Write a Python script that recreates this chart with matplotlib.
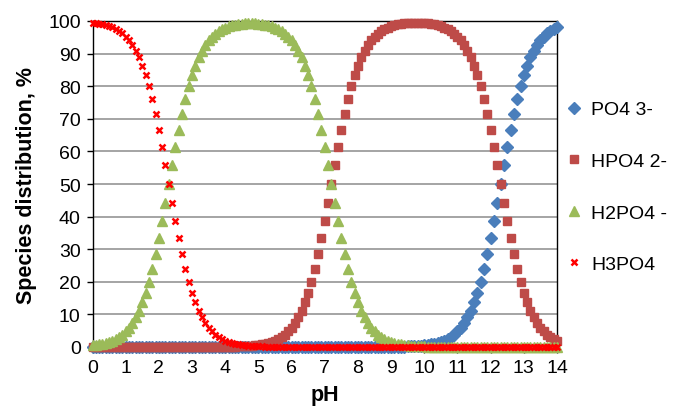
import matplotlib
matplotlib.use("Agg")
import matplotlib.pyplot as plt

plt.rcParams['font.family'] = ['Liberation Sans', 'DejaVu Sans']

ph = [
    0.0, 0.1, 0.2, 0.3, 0.4, 0.5, 0.6, 0.7, 0.8, 0.9,
    1.0, 1.1, 1.2, 1.3, 1.4, 1.5, 1.6, 1.7, 1.8, 1.9,
    2.0, 2.1, 2.2, 2.3, 2.4, 2.5, 2.6, 2.7, 2.8, 2.9,
    3.0, 3.1, 3.2, 3.3, 3.4, 3.5, 3.6, 3.7, 3.8, 3.9,
    4.0, 4.1, 4.2, 4.3, 4.4, 4.5, 4.6, 4.7, 4.8, 4.9,
    5.0, 5.1, 5.2, 5.3, 5.4, 5.5, 5.6, 5.7, 5.8, 5.9,
    6.0, 6.1, 6.2, 6.3, 6.4, 6.5, 6.6, 6.7, 6.8, 6.9,
    7.0, 7.1, 7.2, 7.3, 7.4, 7.5, 7.6, 7.7, 7.8, 7.9,
    8.0, 8.1, 8.2, 8.3, 8.4, 8.5, 8.6, 8.7, 8.8, 8.9,
    9.0, 9.1, 9.2, 9.3, 9.4, 9.5, 9.6, 9.7, 9.8, 9.9,
    10.0, 10.1, 10.2, 10.3, 10.4, 10.5, 10.6, 10.7, 10.8, 10.9,
    11.0, 11.1, 11.2, 11.3, 11.4, 11.5, 11.6, 11.7, 11.8, 11.9,
    12.0, 12.1, 12.2, 12.3, 12.4, 12.5, 12.6, 12.7, 12.8, 12.9,
    13.0, 13.1, 13.2, 13.3, 13.4, 13.5, 13.6, 13.7, 13.8, 13.9,
    14.0,
]

po4 = [
    0, 0, 0, 0, 0, 0, 0, 0, 0, 0,
    0, 0, 0, 0, 0, 0, 0, 0, 0, 0,
    0, 0, 0, 0, 0, 0, 0, 0, 0, 0,
    0, 0, 0, 0, 0, 0, 0, 0, 0, 0,
    0, 0, 0, 0, 0, 0, 0, 0, 0, 0,
    0, 0, 0, 0, 0, 0, 0, 0, 0, 0,
    0, 0, 0, 0, 0, 0, 0, 0, 0, 0,
    0, 0, 0, 0, 0, 0, 0, 0, 0, 0,
    0, 0.01, 0.01, 0.01, 0.01, 0.02, 0.02, 0.03, 0.03, 0.04,
    0.05, 0.06, 0.08, 0.10, 0.13, 0.16, 0.20, 0.25, 0.32, 0.40,
    0.50, 0.63, 0.79, 0.99, 1.24, 1.56, 1.96, 2.45, 3.07, 3.83,
    4.77, 5.94, 7.36, 9.09, 11.18, 13.68, 16.63, 20.08, 24.03, 28.47,
    33.39, 38.69, 44.27, 50.00, 55.73, 61.31, 66.61, 71.53, 75.97, 79.92,
    83.37, 86.32, 88.82, 90.91, 92.64, 94.06, 95.23, 96.17, 96.93, 97.55,
    98.04,
]

hpo4 = [
    0, 0, 0, 0, 0, 0, 0, 0, 0, 0,
    0, 0, 0, 0, 0, 0, 0, 0, 0, 0,
    0, 0, 0, 0, 0, 0, 0, 0, 0, 0,
    0.01, 0.01, 0.01, 0.01, 0.02, 0.02, 0.03, 0.03, 0.04, 0.05,
    0.06, 0.08, 0.10, 0.13, 0.16, 0.20, 0.25, 0.32, 0.40, 0.50,
    0.63, 0.79, 0.99, 1.24, 1.56, 1.96, 2.45, 3.07, 3.83, 4.77,
    5.94, 7.36, 9.09, 11.18, 13.68, 16.63, 20.08, 24.03, 28.47, 33.39,
    38.69, 44.27, 50.00, 55.73, 61.31, 66.61, 71.53, 75.97, 79.92, 83.37,
    86.32, 88.82, 90.91, 92.64, 94.06, 95.21, 96.15, 96.90, 97.52, 98.00,
    98.39, 98.70, 98.93, 99.11, 99.24, 99.34, 99.40, 99.43, 99.43, 99.40,
    99.34, 99.24, 99.11, 98.93, 98.70, 98.39, 98.00, 97.52, 96.91, 96.15,
    95.21, 94.05, 92.63, 90.90, 88.81, 86.31, 83.37, 79.92, 75.97, 71.53,
    66.61, 61.31, 55.73, 50.00, 44.27, 38.69, 33.39, 28.47, 24.03, 20.08,
    16.63, 13.68, 11.18, 9.09, 7.36, 5.94, 4.77, 3.83, 3.07, 2.45,
    1.96,
]

h2po4 = [
    0.50, 0.63, 0.79, 0.99, 1.24, 1.56, 1.96, 2.45, 3.07, 3.83,
    4.77, 5.94, 7.36, 9.09, 11.18, 13.68, 16.63, 20.08, 24.03, 28.47,
    33.39, 38.69, 44.27, 50.00, 55.73, 61.31, 66.61, 71.53, 75.97, 79.92,
    83.36, 86.31, 88.81, 90.90, 92.62, 94.04, 95.20, 96.14, 96.89, 97.50,
    97.98, 98.36, 98.66, 98.88, 99.05, 99.17, 99.25, 99.28, 99.28, 99.25,
    99.17, 99.05, 98.88, 98.66, 98.36, 97.98, 97.50, 96.89, 96.14, 95.20,
    94.04, 92.63, 90.90, 88.81, 86.32, 83.37, 79.92, 75.97, 71.53, 66.61,
    61.31, 55.73, 50.00, 44.27, 38.69, 33.39, 28.47, 24.03, 20.08, 16.63,
    13.68, 11.18, 9.09, 7.36, 5.94, 4.77, 3.83, 3.07, 2.45, 1.96,
    1.56, 1.24, 0.99, 0.79, 0.63, 0.50, 0.40, 0.32, 0.25, 0.20,
    0.16, 0.13, 0.10, 0.08, 0.06, 0.05, 0.04, 0.03, 0.02, 0.02,
    0.02, 0.01, 0.01, 0.01, 0.01, 0.01, 0, 0, 0, 0,
    0, 0, 0, 0, 0, 0, 0, 0, 0, 0,
    0, 0, 0, 0, 0, 0, 0, 0, 0, 0,
    0,
]

h3po4 = [
    99.50, 99.37, 99.21, 99.01, 98.76, 98.44, 98.04, 97.55, 96.93, 96.17,
    95.23, 94.06, 92.64, 90.91, 88.82, 86.32, 83.37, 79.92, 75.97, 71.53,
    66.61, 61.31, 55.73, 50.00, 44.27, 38.69, 33.39, 28.47, 24.03, 20.08,
    16.63, 13.68, 11.18, 9.09, 7.36, 5.94, 4.77, 3.83, 3.07, 2.45,
    1.96, 1.56, 1.24, 0.99, 0.79, 0.63, 0.50, 0.40, 0.32, 0.25,
    0.20, 0.16, 0.13, 0.10, 0.08, 0.06, 0.05, 0.04, 0.03, 0.03,
    0.02, 0.01, 0.01, 0.01, 0.01, 0.01, 0, 0, 0, 0,
    0, 0, 0, 0, 0, 0, 0, 0, 0, 0,
    0, 0, 0, 0, 0, 0, 0, 0, 0, 0,
    0, 0, 0, 0, 0, 0, 0, 0, 0, 0,
    0, 0, 0, 0, 0, 0, 0, 0, 0, 0,
    0, 0, 0, 0, 0, 0, 0, 0, 0, 0,
    0, 0, 0, 0, 0, 0, 0, 0, 0, 0,
    0, 0, 0, 0, 0, 0, 0, 0, 0, 0,
    0,
]

labels = ['PO4 3-', 'HPO4 2-', 'H2PO4 -', 'H3PO4']
x_ticks = list(range(0, 15))
y_ticks = list(range(0, 101, 10))

fig = plt.figure(figsize=(6.73, 4.14), dpi=100)
ax = fig.add_axes([92.5 / 673, 66 / 414, 464.5 / 673, 326 / 414])

ax.plot(ph, po4, ls='none', marker='D', ms=6.3, color='#4A7EBB', mec='#4A7EBB', label=labels[0], clip_on=False, zorder=3)
ax.plot(ph, hpo4, ls='none', marker='s', ms=5.6, color='#BE4B48', mec='#BE4B48', label=labels[1], clip_on=False, zorder=4)
ax.plot(ph, h2po4, ls='none', marker='^', ms=7.4, color='#9BBB59', mec='#9BBB59', label=labels[2], clip_on=False, zorder=5)
ax.plot(ph, h3po4, ls='none', marker='x', ms=4.8, mew=1.8, color='#FF0000', label=labels[3], clip_on=False, zorder=6)

ax.set_xlim(0, 14)
ax.set_ylim(0, 100)
ax.set_xticks(x_ticks)
ax.set_yticks(y_ticks)
ax.yaxis.grid(True, color='#8C8C8C', lw=1.1)
ax.set_axisbelow(True)
for s in ax.spines.values():
    s.set_color('black')
    s.set_linewidth(1.0)
ax.tick_params(axis='both', direction='out', length=4.5, width=1, color='black', labelsize=14, pad=4)

ax.set_xlabel('pH', fontsize=15.5, fontweight='bold', labelpad=6)
ax.set_ylabel('Species distribution, %', fontsize=15.5, fontweight='bold', labelpad=8)

leg = fig.legend(loc='center left', bbox_to_anchor=(566 / 673, 1 - 188 / 414), frameon=False,
                 fontsize=14, labelspacing=1.75, handlelength=0.8, handletextpad=0.5,
                 borderpad=0, borderaxespad=0, markerscale=1.0)

fig.savefig('out.png', dpi=100)
